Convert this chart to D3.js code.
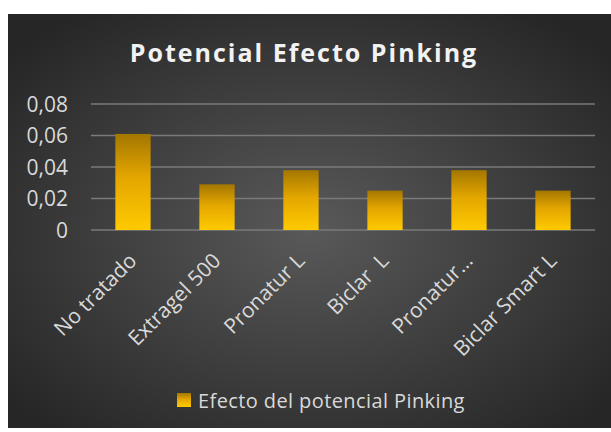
<!DOCTYPE html>
<html>
<head>
<meta charset="utf-8">
<script src="https://cdn.jsdelivr.net/npm/d3@7"></script>
<style>
  body { margin: 0; background: #fff; }
  svg { display: block; }
  text { font-family: "Open Sans", "Noto Sans", sans-serif; white-space: pre; }
</style>
</head>
<body>
<div id="chart"></div>
<script>
// Chart data
const categories = ['No tratado', 'Extragel 500', 'Pronatur L', 'Biclar  L', 'Pronatur…', 'Biclar Smart L'];
const values = [0.061, 0.029, 0.038, 0.025, 0.038, 0.025];
const yTicks = [0, 0.02, 0.04, 0.06, 0.08];
const seriesName = 'Efecto del potencial Pinking';
const title = 'Potencial Efecto Pinking';

const width = 611;
const height = 432;

const svg = d3.select('#chart')
  .append('svg')
  .attr('width', width)
  .attr('height', height);

const defs = svg.append('defs');

// Dark radial background like the Excel style
const bg = defs.append('radialGradient')
  .attr('id', 'bg')
  .attr('cx', '50%').attr('cy', '52%').attr('r', '65%');
bg.append('stop').attr('offset', '0%').attr('stop-color', '#595959');
bg.append('stop').attr('offset', '100%').attr('stop-color', '#262626');

// Gold bar gradient
const barGrad = defs.append('linearGradient')
  .attr('id', 'bar')
  .attr('x1', 0).attr('y1', 0).attr('x2', 0).attr('y2', 1);
barGrad.append('stop').attr('offset', '0%').attr('stop-color', '#a37600');
barGrad.append('stop').attr('offset', '45%').attr('stop-color', '#e3a600');
barGrad.append('stop').attr('offset', '100%').attr('stop-color', '#ffca00');

svg.append('rect')
  .attr('x', 8).attr('y', 14)
  .attr('width', width - 8).attr('height', height - 18)
  .attr('fill', 'url(#bg)');

// Title
svg.append('text')
  .attr('x', 304).attr('y', 62)
  .attr('text-anchor', 'middle')
  .attr('font-size', '25px')
  .attr('font-weight', 'bold')
  .attr('letter-spacing', '2px')
  .attr('fill', '#f2f2f2')
  .text(title);

// Scales
const x = d3.scaleBand()
  .domain(categories)
  .range([91, 595])
  .paddingInner(0.58)
  .paddingOuter(0.29);

const y = d3.scaleLinear()
  .domain([0, 0.08])
  .range([230, 104]);

// Gridlines
svg.append('g')
  .selectAll('line')
  .data(yTicks)
  .enter().append('line')
  .attr('x1', 91).attr('x2', 595)
  .attr('y1', d => y(d)).attr('y2', d => y(d))
  .attr('stroke', '#7a7a7a')
  .attr('stroke-width', 1.5);

// Y axis labels
const fmt = d => d === 0 ? '0' : d3.format('.2f')(d).replace('.', ',');
svg.append('g')
  .selectAll('text')
  .data(yTicks)
  .enter().append('text')
  .attr('x', 68)
  .attr('y', d => y(d))
  .attr('dy', '0.36em')
  .attr('text-anchor', 'end')
  .attr('font-size', '21px')
  .attr('fill', '#d9d9d9')
  .text(fmt);

// Bars
svg.append('g')
  .selectAll('rect')
  .data(values)
  .enter().append('rect')
  .attr('x', (d, i) => x(categories[i]))
  .attr('y', d => y(d))
  .attr('width', x.bandwidth())
  .attr('height', d => y(0) - y(d))
  .attr('fill', 'url(#bar)');

// X axis labels, rotated
svg.append('g')
  .selectAll('text')
  .data(categories)
  .enter().append('text')
  .attr('transform', d => `translate(${x(d) + x.bandwidth() / 2 + 5},${262}) rotate(-45)`)
  .attr('text-anchor', 'end')
  .attr('font-size', '21px')
  .attr('fill', '#d9d9d9')
  .text(d => d);

// Legend
const legend = svg.append('g').attr('transform', 'translate(177,393)');
legend.append('rect')
  .attr('width', 14).attr('height', 14)
  .attr('fill', 'url(#bar)');
legend.append('text')
  .attr('x', 21).attr('y', 15)
  .attr('font-size', '20px')
  .attr('letter-spacing', '0.4px')
  .attr('fill', '#d9d9d9')
  .text(seriesName);
</script>
</body>
</html>
